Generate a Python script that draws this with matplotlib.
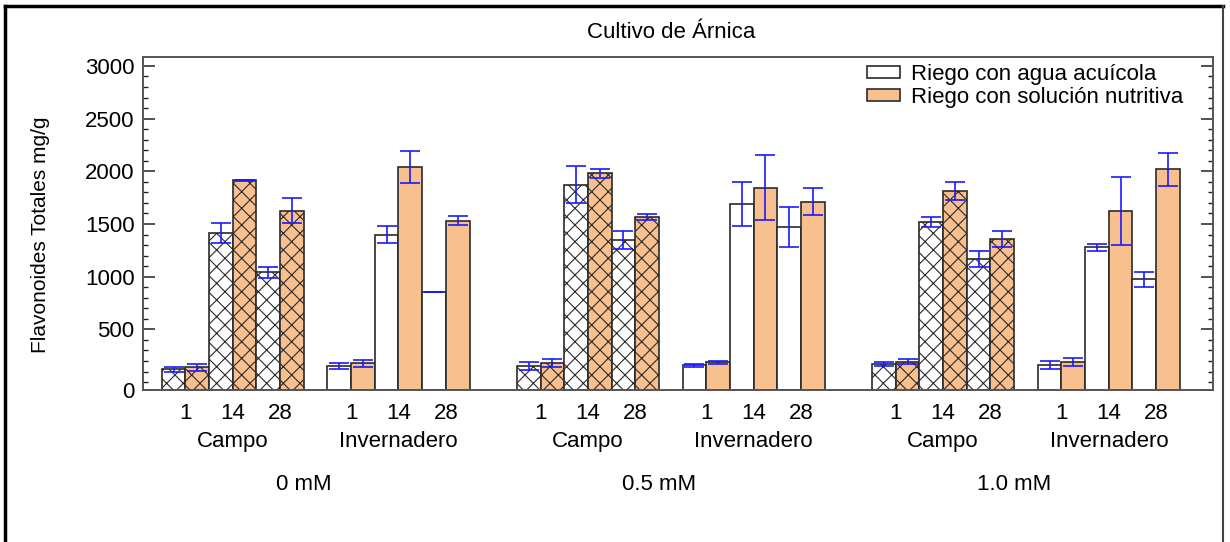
import numpy as np
import matplotlib
matplotlib.use('Agg')
import matplotlib.pyplot as plt
from matplotlib.patches import Patch

plt.rcParams['font.family'] = ['Liberation Sans', 'DejaVu Sans']
plt.rcParams['hatch.linewidth'] = 0.8

concentrations = ['0 mM', '0.5 mM', '1.0 mM']
sites = ['Campo', 'Invernadero']
days = ['1', '14', '28']

# mean flavonoids (mg/g), order: conc -> site -> day
acuicola = [
    [[120, 1417, 1044], [152, 1400, 854]],
    [[152, 1875, 1347], [161, 1692, 1471]],
    [[171, 1518, 1164], [161, 1278, 974]],
]
acuicola_err = [
    [[27, 95, 52], [32, 83, 3]],
    [[38, 180, 85], [15, 210, 192]],
    [[18, 50, 76], [41, 37, 71]],
]
nutritiva = [
    [[142, 1916, 1628], [177, 2040, 1530]],
    [[177, 1980, 1569], [190, 1844, 1711]],
    [[193, 1815, 1357], [190, 1626, 2020]],
]
nutritiva_err = [
    [[32, 5, 120], [35, 155, 43]],
    [[38, 40, 27], [14, 310, 130]],
    [[22, 87, 73], [41, 325, 158]],
]

y_lo, y_hi = -75, 3085
orange = '#F9C08F'
edge = '#2a2a2a'
err_color = '#1a1aff'

fig = plt.figure(figsize=(12.3, 5.42), dpi=100)
ax = fig.add_axes([143 / 1230, 1 - 390 / 542, 1070 / 1230, 333 / 542])

block_w = 15
site_off = [0, 7]
for ci, conc in enumerate(concentrations):
    for si, site in enumerate(sites):
        x0 = ci * block_w + site_off[si]
        hatch = 'xx' if site == 'Campo' else None
        for di in range(len(days)):
            xa = x0 + 2 * di
            xn = xa + 1
            va, vn = acuicola[ci][si][di], nutritiva[ci][si][di]
            ax.bar(xa, va - y_lo, bottom=y_lo, width=1, align='edge',
                   color='white', edgecolor=edge, linewidth=1.2, hatch=hatch, zorder=2)
            ax.bar(xn, vn - y_lo, bottom=y_lo, width=1, align='edge',
                   color=orange, edgecolor=edge, linewidth=1.2, hatch=hatch, zorder=2)
            ax.errorbar(xa + 0.5, va, yerr=acuicola_err[ci][si][di], fmt='none',
                        ecolor=err_color, elinewidth=1.2, capsize=7.5, capthick=1.2, zorder=3)
            ax.errorbar(xn + 0.5, vn, yerr=nutritiva_err[ci][si][di], fmt='none',
                        ecolor=err_color, elinewidth=1.2, capsize=7.5, capthick=1.2, zorder=3)
            ax.text(xn, -0.07, days[di], transform=ax.get_xaxis_transform(),
                    ha='center', va='center', fontsize=16)
        ax.text(x0 + 3, -0.155, site, transform=ax.get_xaxis_transform(),
                ha='center', va='center', fontsize=16)
    ax.text(ci * block_w + 6, -0.285, conc, transform=ax.get_xaxis_transform(),
            ha='center', va='center', fontsize=16)

ax.set_xlim(-0.79, 44.4)
ax.set_ylim(y_lo, y_hi)
ax.set_xticks([])
major = [y_lo] + list(range(500, 3001, 500))
ax.set_yticks(major)
ax.set_yticklabels(['0'] + [str(v) for v in major[1:]])
ax.set_yticks(np.arange(0, 3001, 100), minor=True)
ax.tick_params(axis='y', which='both', direction='in', left=True, right=True,
               labelsize=16, color='#222222', pad=6)
ax.tick_params(axis='y', which='major', length=8.5, width=1.1)
ax.tick_params(axis='y', which='minor', length=3.5, width=1.0)
for s in ax.spines.values():
    s.set_color('#555555')
    s.set_linewidth(1.4)

ax.set_title('Cultivo de Árnica', fontsize=16, pad=14, x=0.494)
fig.text(41 / 1230, 1 - 235 / 542, 'Flavonoides Totales mg/g', rotation=90,
         ha='center', va='center', fontsize=15)

handles = [Patch(facecolor='white', edgecolor=edge, linewidth=1.2),
           Patch(facecolor=orange, edgecolor=edge, linewidth=1.2)]
ax.legend(handles, ['Riego con agua acuícola', 'Riego con solución nutritiva'],
          loc='upper right', bbox_to_anchor=(0.985, 1.02), frameon=False, fontsize=16,
          handlelength=1.5, handleheight=0.45, handletextpad=0.5, labelspacing=0.1,
          borderaxespad=0.2)

# outer frame around the figure
fig.add_artist(plt.Line2D([5 / 1230, 5 / 1230], [0, 1 - 6 / 542], color='black', lw=2.5))
fig.add_artist(plt.Line2D([5 / 1230, 1223 / 1230], [1 - 6 / 542, 1 - 6 / 542], color='black', lw=2.5))
fig.add_artist(plt.Line2D([1223 / 1230, 1223 / 1230], [0, 1 - 6 / 542], color='#444444', lw=1.5))

fig.savefig('out.png', dpi=100)
